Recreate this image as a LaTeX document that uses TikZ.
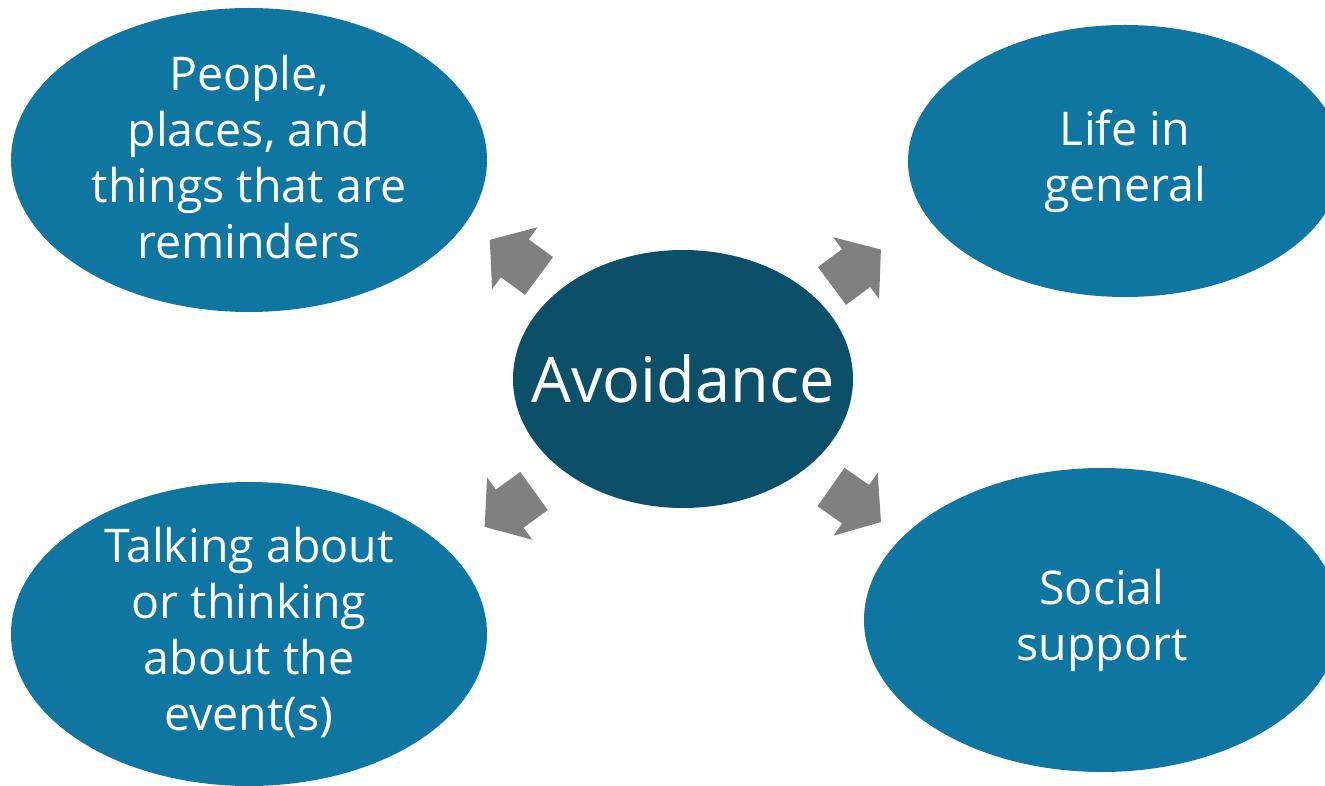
\documentclass[tikz,border=0pt]{standalone}
\usepackage{fontspec}
\setmainfont{Open Sans}
\usetikzlibrary{shapes.geometric}
\definecolor{outerblue}{HTML}{0E76A0}
\definecolor{innerblue}{HTML}{0B5068}
\definecolor{arrowgray}{HTML}{808080}
\tikzset{
  outerell/.style={ellipse, fill=outerblue, draw=none, inner sep=0pt},
  innerell/.style={ellipse, fill=innerblue, draw=none, inner sep=0pt},
  outertext/.style={text=white, align=center, font=\fontsize{46.5}{56}\selectfont},
  centertext/.style={text=white, font=\fontsize{63}{70}\selectfont},
  blockarrow/.style={fill=arrowgray, draw=none}
}
\begin{document}
\begin{tikzpicture}[x=1pt,y=1pt]
\useasboundingbox (0,0) rectangle (1325,785);
% ellipses
\node[outerell, minimum width=476, minimum height=304] (tl) at (249,625) {};
\node[outerell, minimum width=434, minimum height=272] (tr) at (1125,624) {};
\node[outerell, minimum width=476, minimum height=304] (bl) at (249,151) {};
\node[outerell, minimum width=476, minimum height=304] (br) at (1102,165) {};
\node[innerell, minimum width=340, minimum height=258] (c) at (683,406) {};
% texts
\node[outertext, yshift=3] (tlt) at (tl.center) {People,\\places, and\\things that are\\reminders};
\node[outertext] (trt) at (tr.center) {Life in\\general};
\node[outertext, yshift=1] (blt) at (bl.center) {Talking about\\or thinking\\about the\\event(s)};
\node[outertext] (brt) at (br.center) {Social\\support};
\node[centertext] (ct) at (c.center) {Avoidance};
% block arrows
\foreach \px/\py/\ang in {539/509/143.7, 832/499/36.7, 534/294/-144, 831/298/-35}{
  \begin{scope}[shift={(\px,\py)}, rotate=\ang]
    \fill[blockarrow] (0,-23.5) -- (30,-23.5) -- (30,-38.5) -- (61,0) -- (30,38.5) -- (30,23.5) -- (0,23.5) -- cycle;
  \end{scope}
}
\end{tikzpicture}
\end{document}
